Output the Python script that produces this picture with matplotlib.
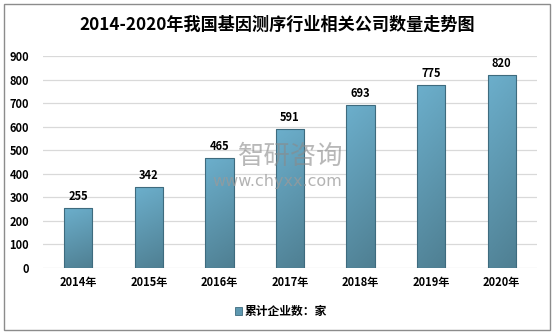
import numpy as np
import matplotlib
matplotlib.use('Agg')
import matplotlib.pyplot as plt
from matplotlib.patches import Rectangle

plt.rcParams['font.family'] = ['Noto Sans CJK SC', 'DejaVu Sans']

years = ['2014年', '2015年', '2016年', '2017年', '2018年', '2019年', '2020年']
counts = [255, 342, 465, 591, 693, 775, 820]
yticks = [0, 100, 200, 300, 400, 500, 600, 700, 800, 900]

fig = plt.figure(figsize=(5.54, 3.36), dpi=100)
ax = fig.add_axes([0.0776, 0.2024, 0.8917, 0.6309])

# 渐变填充: 上浅下深, 左边稍亮
grad = np.linspace(1, 0, 256)[:, None] * 0.85 + 0.15 * np.linspace(1, 0, 32)[None, :]
cmap = matplotlib.colors.LinearSegmentedColormap.from_list('bar', ['#4f7f92', '#6cafcc'])

x = np.arange(len(years))
bars = ax.bar(x, counts, width=0.4, color='none', edgecolor='#3e6b7e', linewidth=0.8, zorder=3)
for b in bars:
    x0, y0 = b.get_x(), b.get_y()
    w, h = b.get_width(), b.get_height()
    im = ax.imshow(grad, cmap=cmap, aspect='auto', extent=[x0, x0 + w, y0, y0 + h],
                   vmin=0, vmax=1, zorder=2)
    im.set_clip_path(b)
    ax.text(x0 + w / 2, h + 22, str(int(h)), ha='center', va='bottom',
            fontsize=8, fontweight='bold', color='#000000', zorder=4)

ax.set_xlim(-0.5, len(years) - 0.5)
ax.set_ylim(0, 900)
ax.set_yticks(yticks)
ax.set_xticks(x)
ax.set_xticklabels(years, fontsize=8, fontweight='bold')
for t in ax.get_yticklabels():
    t.set_fontsize(8)
    t.set_fontweight('bold')
ax.tick_params(axis='x', length=0, pad=6)
ax.tick_params(axis='y', length=0, pad=10)
ax.grid(axis='y', color='#d9d9d9', linewidth=0.9, zorder=0)
for s in ax.spines.values():
    s.set_visible(False)

fig.text(0.5, 0.925, '2014-2020年我国基因测序行业相关公司数量走势图', ha='center', va='center',
         fontsize=12.3, fontweight='bold')

# 图例
fig.patches.append(Rectangle((0.424, 0.063), 0.013, 0.022, transform=fig.transFigure,
                             facecolor='#5e98b0', edgecolor='#3e6b7e', linewidth=0.6))
fig.text(0.442, 0.074, '累计企业数：家', ha='left', va='center', fontsize=8.5, fontweight='bold')

# 水印
fig.text(0.525, 0.535, '智研咨询', ha='center', va='center', fontsize=19,
         color='#8a8a8a', alpha=0.6, zorder=10)
fig.text(0.5, 0.461, 'www.chyxx.com', ha='center', va='center', fontsize=11.5,
         color='#9a9a9a', alpha=0.75, family='DejaVu Sans', zorder=10)

# 外边框
fig.patches.append(Rectangle((0.008, 0.018), 0.984, 0.97, transform=fig.transFigure,
                             facecolor='none', edgecolor='#8c8c8c', linewidth=1.0))

fig.savefig('out.png', dpi=100)
